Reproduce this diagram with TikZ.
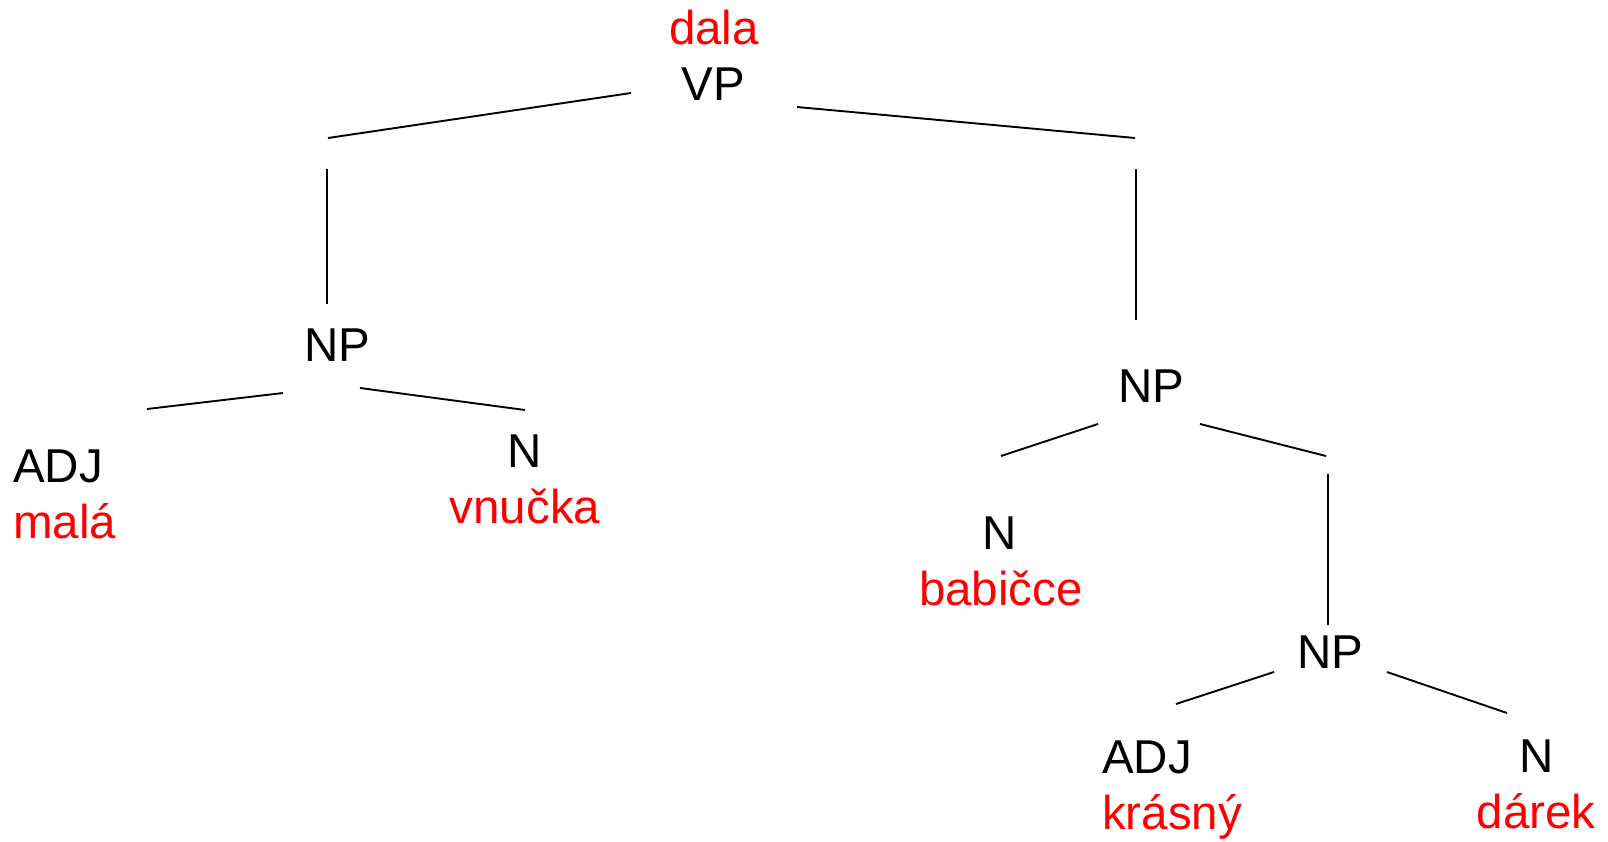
\documentclass[tikz,border=0pt]{standalone}
\usepackage{fontspec}
\setmainfont{Liberation Sans}
\definecolor{wordred}{RGB}{255,0,0}
\begin{document}
\begin{tikzpicture}[x=1pt,y=-1pt,
  lbl/.style={inner sep=0pt,font=\fontsize{47.5}{56}\selectfont,text=black},
  wrd/.style={inner sep=0pt,font=\fontsize{47.5}{56}\selectfont,text=wordred},
  edge/.style={line width=1.9pt,black}]
\useasboundingbox (0,0) rectangle (1608,841);
% texts
\node[wrd,anchor=base] (dala) at (714,44) {dala};
\node[lbl,anchor=base] (vp) at (713,100) {VP};
\node[lbl,anchor=base] (np1) at (337,361) {NP};
\node[lbl,anchor=base west] (adj1) at (13,482) {ADJ};
\node[wrd,anchor=base west] (mala) at (13,538) {malá};
\node[lbl,anchor=base] (n1) at (525,467) {N};
\node[wrd,anchor=base] (vnucka) at (525,523) {vnučka};
\node[lbl,anchor=base] (np2) at (1151,402) {NP};
\node[lbl,anchor=base] (n2) at (1000,549) {N};
\node[wrd,anchor=base] (babicce) at (1001,605) {babičce};
\node[lbl,anchor=base] (np3) at (1330,668) {NP};
\node[lbl,anchor=base west] (adj2) at (1102,773) {ADJ};
\node[wrd,anchor=base west] (krasny) at (1102,829) {krásný};
\node[lbl,anchor=base] (n3) at (1537,772) {N};
\node[wrd,anchor=base] (darek) at (1536,828) {dárek};
% line end points
\coordinate (a1) at (631,93);   \coordinate (a2) at (328,138);
\coordinate (b1) at (797,107);  \coordinate (b2) at (1135,138);
\coordinate (c1) at (327,169);  \coordinate (c2) at (327,304);
\coordinate (d1) at (1136,169); \coordinate (d2) at (1136,320);
\coordinate (e1) at (283,393);  \coordinate (e2) at (147,409);
\coordinate (f1) at (360,388);  \coordinate (f2) at (525,410);
\coordinate (g1) at (1098,424); \coordinate (g2) at (1001,456);
\coordinate (h1) at (1200,424); \coordinate (h2) at (1326,456);
\coordinate (i1) at (1328,474); \coordinate (i2) at (1328,625);
\coordinate (j1) at (1274,672); \coordinate (j2) at (1176,704);
\coordinate (k1) at (1387,672); \coordinate (k2) at (1507,713);
% lines
\draw[edge] (a1) -- (a2);
\draw[edge] (b1) -- (b2);
\draw[edge] (c1) -- (c2);
\draw[edge] (d1) -- (d2);
\draw[edge] (e1) -- (e2);
\draw[edge] (f1) -- (f2);
\draw[edge] (g1) -- (g2);
\draw[edge] (h1) -- (h2);
\draw[edge] (i1) -- (i2);
\draw[edge] (j1) -- (j2);
\draw[edge] (k1) -- (k2);
\end{tikzpicture}
\end{document}
